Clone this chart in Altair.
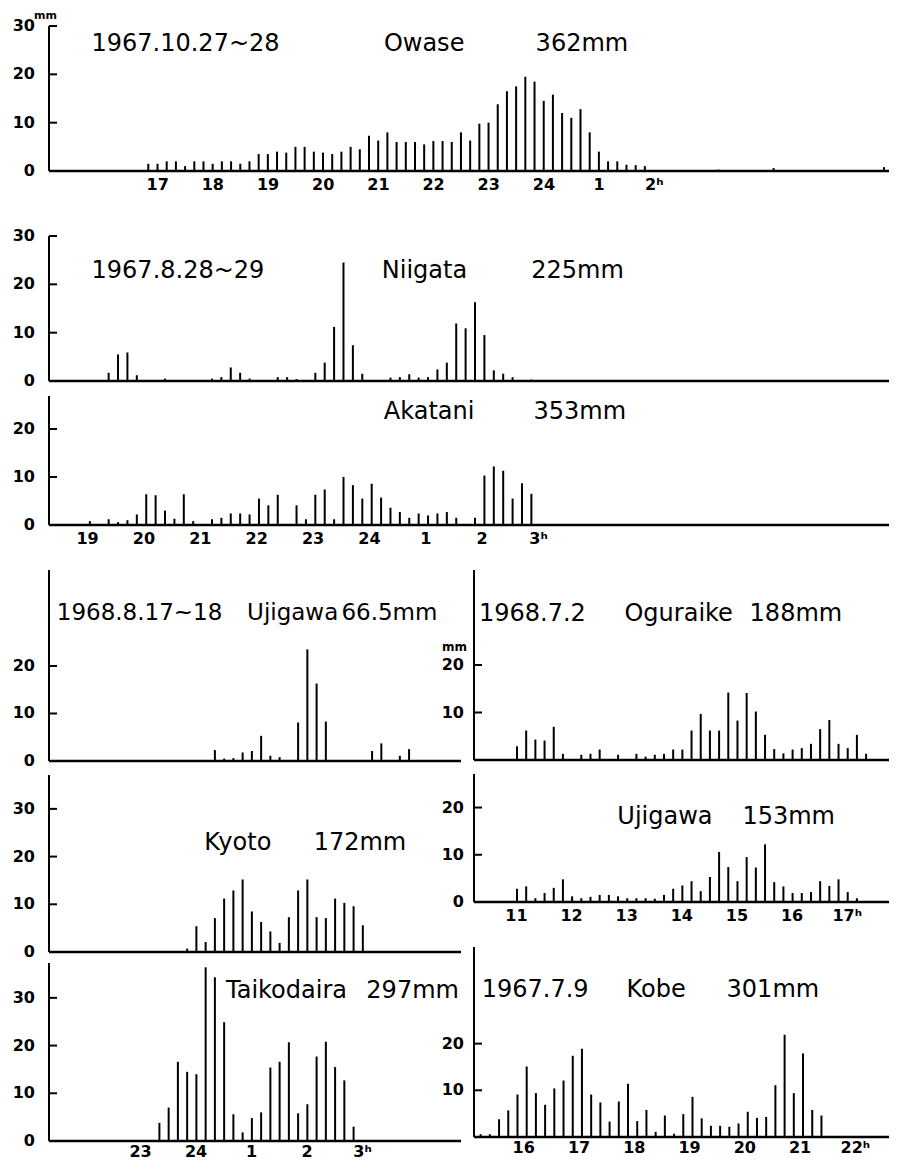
import altair as alt
import pandas as pd

FONT = "DejaVu Sans"

# ---------------- data: 10-minute rainfall (mm), consecutive 10-min steps from a start hour
OWASE_START = 16.83
OWASE_MM = [1.5, 1.5, 2.0, 2.0, 1.0, 2.0, 2.0, 1.5, 2.0, 2.0, 1.5, 2.0, 3.5, 3.5, 4.0, 3.8,
            5.0, 5.0, 4.0, 3.8, 3.5, 4.0, 5.0, 4.5, 7.3, 6.3, 8.0, 6.0, 6.0, 6.0, 5.5, 6.2,
            6.2, 6.0, 8.0, 6.3, 9.8, 10.0, 13.8, 16.5, 17.5, 19.5, 18.5, 14.5, 15.8, 12.0,
            11.0, 12.8, 8.0, 4.0, 2.0, 2.0, 1.3, 1.2, 1.0,
            0, 0, 0, 0, 0, 0, 0, 0.3, 0, 0, 0, 0, 0, 0.6,
            0, 0, 0, 0, 0, 0, 0, 0, 0, 0, 0, 0.8]

NIIGATA_START = 19.373
NIIGATA_MM = [1.7, 5.5, 5.9, 1.2, 0, 0, 0.5, 0, 0, 0, 0, 0.5, 0.8, 2.8, 1.7, 0.5, 0, 0,
              0.8, 0.8, 0.4, 0, 1.7, 3.8, 11.2, 24.5, 7.4, 1.5, 0, 0, 0.7, 0.8, 1.4, 0.7,
              0.8, 2.4, 3.8, 11.9, 10.9, 16.3, 9.5, 2.2, 1.5, 0.8, 0, 0.3]

AKATANI_START = 19.04
AKATANI_MM = [0.8, 0, 1.2, 0.6, 1.0, 2.2, 6.4, 6.2, 3.0, 1.3, 6.4, 0.8, 0, 1.2, 1.5, 2.4,
              2.4, 2.2, 5.5, 4.1, 6.3, 0, 4.1, 1.2, 6.3, 7.4, 1.2, 10.0, 8.3, 5.5, 8.6, 5.7,
              3.6, 2.7, 1.5, 2.4, 2.0, 2.4, 2.7, 1.5, 0, 1.5, 10.3, 12.2, 11.3, 5.5, 8.7, 6.5]

UJIGAWA68_START = 24.34
UJIGAWA68_MM = [2.3, 0.5, 0.6, 1.8, 2.1, 5.3, 1.1, 0.8, 0, 8.1, 23.5, 16.3, 8.3, 0, 0, 0, 0,
                2.1, 3.7, 0, 1.1, 2.5]

KYOTO_START = 23.84
KYOTO_MM = [0.7, 5.4, 2.1, 7.1, 11.2, 12.9, 15.2, 8.5, 6.3, 4.3, 1.9, 7.3, 12.9, 15.2, 7.3,
            7.1, 11.2, 10.3, 9.6, 5.6]

TAIKODAIRA_START = 23.34
TAIKODAIRA_MM = [3.8, 7.0, 16.6, 14.5, 14.0, 36.4, 34.3, 24.9, 5.6, 1.8, 4.8, 6.0, 15.4, 16.6,
                 20.7, 5.8, 7.7, 17.7, 20.8, 15.5, 12.7, 3.0]

OGURAIKE_START = 11.01
OGURAIKE_MM = [2.9, 6.2, 4.3, 4.1, 7.0, 1.3, 0, 1.1, 1.3, 2.2, 0, 1.1, 0, 1.3, 0.7, 1.1, 1.3,
               2.2, 2.2, 6.2, 9.7, 6.2, 6.2, 14.2, 8.3, 14.1, 10.2, 5.3, 2.3, 1.4, 2.2, 2.5,
               3.4, 6.5, 8.4, 3.4, 2.5, 5.3, 1.3]

UJIGAWA67_START = 11.01
UJIGAWA67_MM = [2.8, 3.3, 0.8, 1.9, 3.0, 4.8, 1.2, 0.8, 1.1, 1.5, 1.5, 1.2, 0.8, 0.8, 0.8, 0.7,
                1.5, 2.8, 3.5, 4.4, 2.3, 5.3, 10.6, 7.4, 4.4, 9.5, 7.3, 12.2, 4.2, 3.3, 1.9,
                1.9, 2.1, 4.4, 3.4, 4.8, 2.1, 0.8]

KOBE_START = 15.22
KOBE_MM = [0.6, 0.6, 3.8, 5.7, 9.1, 15.1, 9.4, 6.9, 10.4, 12.1, 17.4, 18.9, 9.1, 7.4, 3.3,
           7.6, 11.4, 3.4, 5.8, 1.1, 4.6, 0.7, 4.9, 8.6, 4.0, 2.4, 2.4, 2.2, 2.9, 5.4, 4.1,
           4.3, 11.1, 21.9, 9.4, 17.9, 5.8, 4.6]

# ---------------- hour tick labels
OWASE_HOURS = [17, 18, 19, 20, 21, 22, 23, 24, 25, 26]
OWASE_LABELS = ["17", "18", "19", "20", "21", "22", "23", "24", "1", "2ʰ"]
AKATANI_HOURS = [19, 20, 21, 22, 23, 24, 25, 26, 27]
AKATANI_LABELS = ["19", "20", "21", "22", "23", "24", "1", "2", "3ʰ"]
KYOTO_HOURS = [23, 24, 25, 26, 27]
KYOTO_LABELS = ["23", "24", "1", "2", "3ʰ"]
UJI_HOURS = [11, 12, 13, 14, 15, 16, 17]
UJI_LABELS = ["11", "12", "13", "14", "15", "16", "17ʰ"]
KOBE_HOURS = [16, 17, 18, 19, 20, 21, 22]
KOBE_LABELS = ["16", "17", "18", "19", "20", "21", "22ʰ"]

# ---------------- layout: one canvas, every panel has its own pixel ranges
W = 840
H = 1115
FS = 24
TICK_FS = 16


def series_frame(start, values):
    df = pd.DataFrame({"t": [start + i / 6 for i in range(len(values))], "mm": values})
    return df[df["mm"] > 0]


def panel(start, values, xdom, xrange, ytop, yrange, ylabels, yticks,
          hours=None, hour_labels=None, texts=(), lab_pad=14, unit=None, tsize=FS,
          xlab_pad=6):
    x0 = xrange[0]
    ybase = yrange[0]
    xs = alt.Scale(domain=xdom, range=xrange, nice=False, zero=False)
    ys = alt.Scale(domain=[0, ytop], range=yrange, nice=False)

    bars = alt.Chart(series_frame(start, values)).mark_rule(
        strokeWidth=2, color="black"
    ).encode(
        x=alt.X("t:Q", scale=xs, axis=None),
        y=alt.Y("mm:Q", scale=ys, axis=None),
        y2=alt.datum(0),
    )
    one = pd.DataFrame({"k": [0]})
    xline = alt.Chart(one).mark_rule(strokeWidth=2.5, color="black").encode(
        x=alt.XDatum(xdom[0], type="quantitative", axis=None),
        x2=alt.datum(xdom[1]),
        y=alt.YDatum(0, type="quantitative", axis=None),
    )
    yline = alt.Chart(one).mark_rule(strokeWidth=2, color="black").encode(
        x=alt.value(x0),
        y=alt.YDatum(0, type="quantitative", axis=None),
        y2=alt.datum(ytop),
    )
    ticks = alt.Chart(pd.DataFrame({"v": yticks})).mark_rule(
        strokeWidth=2, color="black"
    ).encode(
        y=alt.Y("v:Q", axis=None),
        x=alt.value(x0),
        x2=alt.value(x0 + 8),
    )
    ylab = alt.Chart(pd.DataFrame({"v": ylabels, "s": [str(v) for v in ylabels]})).mark_text(
        align="right", baseline="middle", font=FONT, fontSize=TICK_FS, fontWeight="bold",
        color="black"
    ).encode(
        y=alt.Y("v:Q", axis=None),
        x=alt.value(x0 - lab_pad),
        text="s:N",
    )
    layers = [bars, xline, yline, ticks, ylab]
    if hours:
        layers.append(
            alt.Chart(pd.DataFrame({"h": hours, "s": hour_labels})).mark_text(
                align="center", baseline="top", font=FONT, fontSize=TICK_FS,
                fontWeight="bold", color="black"
            ).encode(
                x=alt.X("h:Q", axis=None),
                y=alt.value(ybase + xlab_pad),
                text="s:N",
            )
        )
    if unit:
        s, ux, uy, usize = unit
        layers.append(
            alt.Chart(pd.DataFrame({"s": [s]})).mark_text(
                align="left", baseline="alphabetic", font=FONT, fontSize=usize,
                fontWeight="bold", color="black"
            ).encode(x=alt.value(ux), y=alt.value(uy), text="s:N")
        )
    for s, tx, ty in texts:
        layers.append(
            alt.Chart(pd.DataFrame({"s": [s]})).mark_text(
                align="left", baseline="alphabetic", font=FONT, fontSize=tsize,
                color="black"
            ).encode(
                x=alt.XDatum(tx, type="quantitative", axis=None),
                y=alt.YDatum(ty, type="quantitative", axis=None),
                text="s:N",
            )
        )
    return alt.layer(*layers)


TOP_X = [0, W]
LEFT_X = [0, 412]
RIGHT_X = [425, W]

owase = panel(OWASE_START, OWASE_MM, [15.03, 30.255], TOP_X, 30, [145, 0],
              [0, 10, 20, 30], [10, 20, 30], OWASE_HOURS, OWASE_LABELS,
              texts=[("1967.10.27~28", 15.80, 24.8), ("Owase", 21.10, 24.8),
                     ("362mm", 23.85, 24.8)],
              unit=("mm", -15, -7, 11))

niigata = panel(NIIGATA_START, NIIGATA_MM, [18.315, 33.218], TOP_X, 30, [355, 210],
                [0, 10, 20, 30], [10, 20, 30],
                texts=[("1967.8.28~29", 19.07, 21.3), ("Niigata", 24.22, 21.3),
                       ("225mm", 26.87, 21.3)])

akatani = panel(AKATANI_START, AKATANI_MM, [18.315, 33.218], TOP_X, 26.875, [499, 370],
                [0, 10, 20], [10, 20], AKATANI_HOURS, AKATANI_LABELS,
                texts=[("Akatani", 24.255, 22.1), ("353mm", 26.91, 22.1)])

LEFT_DOM = [21.35, 28.776]
uji68 = panel(UJIGAWA68_START, UJIGAWA68_MM, LEFT_DOM, LEFT_X, 40.2, [735, 544],
              [0, 10, 20], [10, 20], tsize=23,
              texts=[("1968.8.17~18", 21.49, 29.7), ("Ujigawa", 24.92, 29.7),
                     ("66.5mm", 26.62, 29.7)])
kyoto = panel(KYOTO_START, KYOTO_MM, LEFT_DOM, LEFT_X, 37.1, [926, 749],
              [0, 10, 20, 30], [10, 20, 30],
              texts=[("Kyoto", 24.15, 21.4), ("172mm", 26.12, 21.4)])
taiko = panel(TAIKODAIRA_START, TAIKODAIRA_MM, LEFT_DOM, LEFT_X, 37.3, [1115, 937],
              [0, 10, 20, 30], [10, 20, 30], KYOTO_HOURS, KYOTO_LABELS, xlab_pad=3,
              texts=[("Taikodaira", 24.54, 30.0), ("297mm", 27.07, 30.0)])

RIGHT_DOM = [10.23, 17.759]
ogura = panel(OGURAIKE_START, OGURAIKE_MM, RIGHT_DOM, RIGHT_X, 40, [734, 544],
              [10, 20], [10, 20], lab_pad=10,
              texts=[("1968.7.2", 10.32, 29.3), ("Oguraike", 12.96, 29.3),
                     ("188mm", 15.23, 29.3)],
              unit=("mm", 393, 625, 12))
uji67 = panel(UJIGAWA67_START, UJIGAWA67_MM, RIGHT_DOM, RIGHT_X, 27.1, [876, 748],
              [0, 10, 20], [10, 20], UJI_HOURS, UJI_LABELS, lab_pad=10,
              texts=[("Ujigawa", 12.83, 16.5), ("153mm", 15.10, 16.5)])
kobe = panel(KOBE_START, KOBE_MM, [15.10, 22.609], RIGHT_X, 40.7, [1111, 921],
             [10, 20], [10, 20], KOBE_HOURS, KOBE_LABELS, lab_pad=10, xlab_pad=3,
             texts=[("1967.7.9", 15.24, 30.0), ("Kobe", 17.86, 30.0),
                    ("301mm", 19.67, 30.0)])

chart = alt.layer(owase, niigata, akatani, uji68, kyoto, taiko, ogura, uji67, kobe).resolve_scale(
    x="independent", y="independent"
).properties(
    width=W, height=H,
    autosize=alt.AutoSizeParams(type="none"),
    padding={"left": 41, "top": 18, "right": 0, "bottom": 24},
    background="white",
).configure_view(stroke=None)

chart.save("out.html", embed_options={"renderer": "svg", "actions": False})
